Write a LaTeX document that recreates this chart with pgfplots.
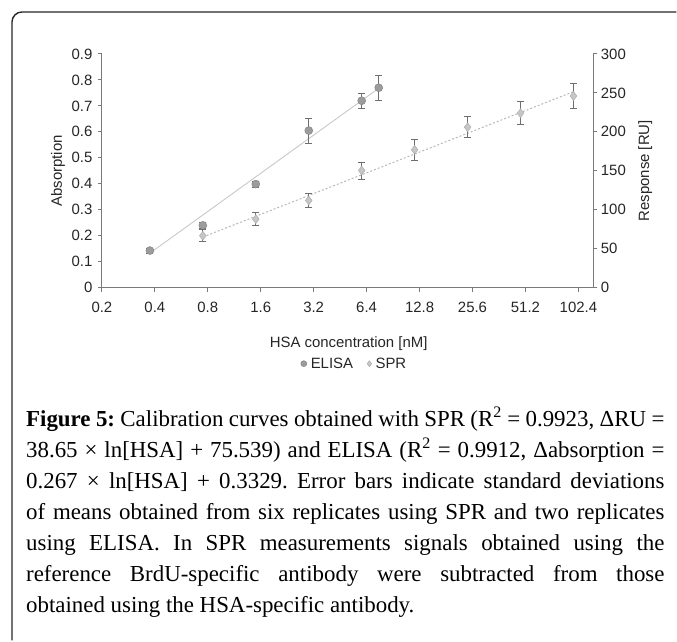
\documentclass[border=0pt]{standalone}
\usepackage{fontspec}
\setmainfont{Liberation Sans}
\newfontfamily\capfont{Liberation Serif}
\usepackage{pgfplots}
\pgfplotsset{compat=1.18}
\definecolor{axisgray}{HTML}{7A7A7A}
\definecolor{elisafill}{HTML}{9C9C9C}
\definecolor{sprfill}{HTML}{C6C6C6}
\definecolor{elisaline}{HTML}{C8C8C8}
\definecolor{sprline}{HTML}{B8B8B8}
\definecolor{errgray}{HTML}{6E6E6E}
\frenchspacing

\begin{document}
\begin{tikzpicture}
\path (0bp,0bp) rectangle (677bp,641bp);
\draw[line width=1.4bp, black!85] (12bp,0bp) -- (12bp,619bp)
  arc[start angle=180, end angle=90, radius=10bp] -- (677bp,629bp);

% ELISA, left axis
\begin{axis}[scale only axis, width=492bp, height=234bp,
  at={(102bp,353bp)}, anchor=south west,
  xmode=log, log basis x=2, xmin=0.2, xmax=124.6, ymin=0, ymax=0.9,
  axis x line=bottom, axis y line=left,
  axis line style={-, axisgray, line width=1.2bp},
  tick align=outside, major tick length=4bp,
  tick style={axisgray, line width=0.9bp},
  tick label style={font=\fontsize{15}{17}\selectfont, text=black!85},
  xticklabel style={yshift=-7bp},
  yticklabel style={xshift=-2bp},
  label style={font=\fontsize{15}{17}\selectfont, text=black!85},
  xtick={0.2,0.4,0.8,1.6,3.2,6.4,12.8,25.6,51.2,102.4},
  xticklabels={0.2,0.4,0.8,1.6,3.2,6.4,12.8,25.6,51.2,102.4},
  ytick={0,0.1,0.2,0.3,0.4,0.5,0.6,0.7,0.8,0.9},
  yticklabels={0,0.1,0.2,0.3,0.4,0.5,0.6,0.7,0.8,0.9},
  xlabel={HSA concentration [nM]}, ylabel={Absorption},
  xlabel style={at={(axis description cs:0.502,-0.239)}, anchor=center},
  ylabel style={at={(axis description cs:-0.0894,0.5)}, anchor=center}]
\addplot[elisaline, line width=0.9bp] coordinates {(0.375,0.133) (7.5,0.768)};
\addplot[only marks, mark=*, mark size=4bp,
  mark options={fill=elisafill, draw=elisafill!80!black},
  error bars/.cd, y dir=both, y explicit,
  error bar style={errgray, line width=0.8bp},
  error mark options={rotate=90, mark size=3.5bp, errgray, line width=0.8bp}]
  coordinates {
  (0.375,0.143) +- (0,0.010)
  (0.75,0.240)  +- (0,0.010)
  (1.5,0.399)   +- (0,0.012)
  (3,0.605)     +- (0,0.048)
  (6,0.720)     +- (0,0.029)
  (7.5,0.770)   +- (0,0.048)};
\end{axis}

% SPR, right axis
\begin{axis}[scale only axis, width=492bp, height=234bp,
  at={(102bp,353bp)}, anchor=south west,
  xmode=log, log basis x=2, xmin=0.2, xmax=124.6, ymin=0, ymax=300,
  axis x line=none, axis y line=right,
  axis line style={-, axisgray, line width=1.2bp},
  tick align=outside, major tick length=4bp,
  tick style={axisgray, line width=0.9bp},
  tick label style={font=\fontsize{15}{17}\selectfont, text=black!85},
  label style={font=\fontsize{15}{17}\selectfont, text=black!85},
  ytick={0,50,100,150,200,250,300},
  yticklabels={0,50,100,150,200,250,300},
  ylabel={Response [RU]},
  ylabel style={at={(axis description cs:1.1057,0.5)}, anchor=center},
  legend style={at={(0.514,-0.325)}, anchor=center, draw=none, fill=none,
    legend columns=2, font=\fontsize{15}{17}\selectfont, text=black!85,
    /tikz/every even column/.append style={column sep=12bp}},
  legend image post style={mark size=3bp}]
\addlegendimage{only marks, mark=*,
  mark options={fill=elisafill, draw=elisafill!80!black}}
\addlegendentry{\hspace{2bp}ELISA}
\addlegendimage{only marks, mark=diamond*,
  mark options={fill=sprfill, draw=sprfill!85!black}}
\addlegendentry{\hspace{2bp}SPR}
\addplot[sprline, line width=1bp, dash pattern=on 2bp off 2bp, forget plot]
  coordinates {(0.75,65) (96,251.5)};
\addplot[only marks, mark=diamond*, mark size=4.5bp, forget plot,
  mark options={fill=sprfill, draw=sprfill!85!black},
  error bars/.cd, y dir=both, y explicit,
  error bar style={errgray, line width=0.8bp},
  error mark options={rotate=90, mark size=3.5bp, errgray, line width=0.8bp}]
  coordinates {
  (0.75,66.7) +- (0,7.7)
  (1.5,88)    +- (0,8.5)
  (3,112)     +- (0,8.5)
  (6,150.4)   +- (0,11)
  (12,177)    +- (0,13.7)
  (24,206)    +- (0,13.5)
  (48,224)    +- (0,14.5)
  (96,246)    +- (0,16.5)};
\end{axis}

\node[anchor=base west, inner sep=0pt] at (26bp,214.3bp) {\parbox[t]{639bp}{%
  \capfont\fontsize{23}{31.2}\selectfont
  \hbox to 639bp{\textbf{Figure 5:} Calibration curves obtained with SPR (R\textsuperscript{2} = 0.9923, ΔRU =}
  \hbox to 639bp{38.65 × ln[HSA] + 75.539) and ELISA (R\textsuperscript{2} = 0.9912, Δabsorption =}
  \hbox to 639bp{0.267 × ln[HSA] + 0.3329. Error bars indicate standard deviations}
  \hbox to 639bp{of means obtained from six replicates using SPR and two replicates}
  \hbox to 639bp{using ELISA. In SPR measurements signals obtained using the}
  \hbox to 639bp{reference BrdU-specific antibody were subtracted from those}
  \hbox{obtained using the HSA-specific antibody.}}};
\end{tikzpicture}
\end{document}
